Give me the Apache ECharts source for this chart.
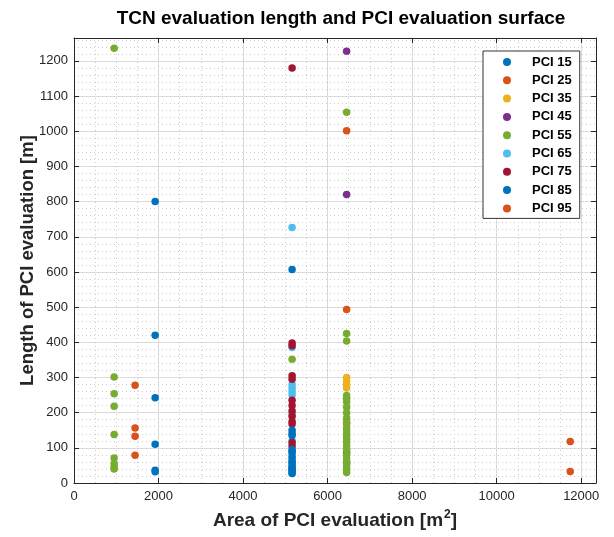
<!DOCTYPE html>
<html>
<head>
<meta charset="utf-8">
<script src="https://cdn.jsdelivr.net/npm/echarts@6/dist/echarts.min.js"></script>
<style>html,body{margin:0;padding:0;background:#fff}#c{width:614px;height:537px}</style>
</head>
<body>
<div id="c"></div>
<script>
// Data: [area m2, length m]
const seriesNames = ['PCI 15','PCI 25','PCI 35','PCI 45','PCI 55','PCI 65','PCI 75','PCI 85','PCI 95'];
const pci15 = [[1920,800],[1920,420],[1920,242],[1920,110],[1920,36],[1920,32],[5160,607],[5160,140],[5160,90],[5160,60],[5160,40]];
const pci25 = [[1445,278],[1445,156],[1445,133],[1445,79],[6450,1001],[6450,493],[6450,169]];
const pci35 = [[6450,300],[6450,290],[6450,280],[6450,270]];
const pci45 = [[6450,1227],[6450,820],[6450,87],[6450,57]];
const pci55 = [[950,1236],[950,301],[950,254],[950,218],[950,138],[950,71],[950,55],[950,45],[950,40],[5160,352],
  [6450,1054],[6450,425],[6450,404],[6450,249],[6450,240],[6450,230],[6450,215],[6450,200],[6450,185],[6450,173],
  [6450,155],[6450,145],[6450,135],[6450,125],[6450,115],[6450,105],[6450,95],[6450,80],[6450,70],[6450,60],[6450,50],[6450,40],[6450,30]];
const pci65 = [[5160,726],[5160,385],[5160,280],[5160,270],[5160,260],[5160,250],[5160,197],[5160,120],[5160,28]];
const pci75 = [[5160,1180],[5160,398],[5160,390],[5160,305],[5160,295],[5160,235],[5160,220],[5160,205],[5160,190],[5160,175],[5160,168],[5160,115],[5160,105]];
const pci85 = [[5160,150],[5160,135],[5160,95],[5160,85],[5160,75],[5160,68],[5160,58],[5160,50],[5160,45],[5160,38],[5160,33],[5160,27]];
const pci95 = [[11740,118],[11740,33]];
const allData = [pci15,pci25,pci35,pci45,pci55,pci65,pci75,pci85,pci95];
const colors = ['#0072BD','#D95319','#EDB120','#7E2F8E','#77AC30','#4DBEEE','#A2142F','#0072BD','#D95319'];
const xTicks = [0,2000,4000,6000,8000,10000,12000];
const yTicks = [0,100,200,300,400,500,600,700,800,900,1000,1100,1200];

const FONT = '"Liberation Sans", Arial, sans-serif';
const AX = '#262626';
const XMAX = 12350, YMAX = 1265;

const chart = echarts.init(document.getElementById('c'), null, {renderer:'canvas'});
const mainX = {
  type:'value', min:0, max:XMAX, interval:2000, position:'bottom', gridIndex:0,
  axisLine:{show:true, onZero:false, lineStyle:{color:AX,width:1}},
  axisTick:{show:true, inside:true, length:5, lineStyle:{color:AX}},
  axisLabel:{show:true, showMaxLabel:false, color:AX, fontSize:13, fontFamily:FONT, margin:7,
    formatter: v => xTicks.indexOf(v) >= 0 ? String(v) : ''},
  splitLine:{show:true, lineStyle:{color:'#dedede', width:1}},
  name:'{a|Area of PCI evaluation [m}{s|2}{a|]}', nameLocation:'middle', nameGap:26,
  nameTextStyle:{rich:{
    a:{fontSize:19, fontWeight:'bold', fontFamily:FONT, color:AX, lineHeight:24},
    s:{fontSize:12, fontWeight:'bold', fontFamily:FONT, color:AX, verticalAlign:'top', lineHeight:24, padding:[0,0,9,1]}
  }}
};
const topX = {type:'value', min:0, max:XMAX, interval:2000, position:'top', gridIndex:0,
  axisLine:{show:true, onZero:false, lineStyle:{color:AX}}, axisTick:{show:true, inside:true, length:5, lineStyle:{color:AX}},
  axisLabel:{show:false}, splitLine:{show:false}};
const minorX = {type:'value', min:0, max:XMAX, interval:500, gridIndex:0,
  axisLine:{show:false}, axisTick:{show:false}, axisLabel:{show:false},
  splitLine:{show:true, lineStyle:{color:'#cdcdcd', width:1, type:[1,3]}}};
const mainY = {
  type:'value', min:0, max:YMAX, interval:100, position:'left', gridIndex:0,
  axisLine:{show:true, onZero:false, lineStyle:{color:AX,width:1}},
  axisTick:{show:true, inside:true, length:5, lineStyle:{color:AX}},
  axisLabel:{show:true, showMaxLabel:false, color:AX, fontSize:13, fontFamily:FONT, margin:6,
    formatter: v => yTicks.indexOf(v) >= 0 ? String(v) : ''},
  splitLine:{show:true, lineStyle:{color:'#dedede', width:1}},
  name:'Length of PCI evaluation [m]', nameLocation:'middle', nameGap:37, nameMoveOverlap:false,
  nameTextStyle:{fontSize:18.5, fontWeight:'bold', fontFamily:FONT, color:AX}
};
const rightY = {type:'value', min:0, max:YMAX, interval:100, position:'right', gridIndex:0,
  axisLine:{show:true, onZero:false, lineStyle:{color:AX}}, axisTick:{show:true, inside:true, length:5, lineStyle:{color:AX}},
  axisLabel:{show:false}, splitLine:{show:false}};
const minorY = {type:'value', min:0, max:YMAX, interval:20, gridIndex:0,
  axisLine:{show:false}, axisTick:{show:false}, axisLabel:{show:false},
  splitLine:{show:true, lineStyle:{color:'#cdcdcd', width:1, type:[1,3]}}};

const series = seriesNames.map((n,i) => ({
  name:n, type:'scatter', xAxisIndex:0, yAxisIndex:0, data:allData[i],
  symbol:'circle', symbolSize:7.5, itemStyle:{color:colors[i], opacity:1},
  emphasis:{disabled:true}, animation:false
}));

chart.setOption({
  animation:false,
  backgroundColor:'#fff',
  color:colors,
  title:{text:'TCN evaluation length and PCI evaluation surface', left:336, textAlign:'center', top:4,
    textStyle:{fontSize:19, fontWeight:'bold', fontFamily:FONT, color:'#000'}},
  grid:{left:74, right:18, top:38, bottom:54, containLabel:false, show:false},
  xAxis:[mainX, topX, minorX],
  yAxis:[mainY, rightY, minorY],
  legend:{orient:'vertical', left:483, top:51,
    padding:[4,8,3,20], itemGap:4.3, itemWidth:8, itemHeight:8, icon:'circle',
    borderColor:'#333', borderWidth:1, backgroundColor:'#fff',
    textStyle:{fontSize:13, fontWeight:'bold', fontFamily:FONT, color:'#000', lineHeight:14, padding:[0,0,0,16]},
    data:seriesNames},
  series:series
});
</script>
</body>
</html>
